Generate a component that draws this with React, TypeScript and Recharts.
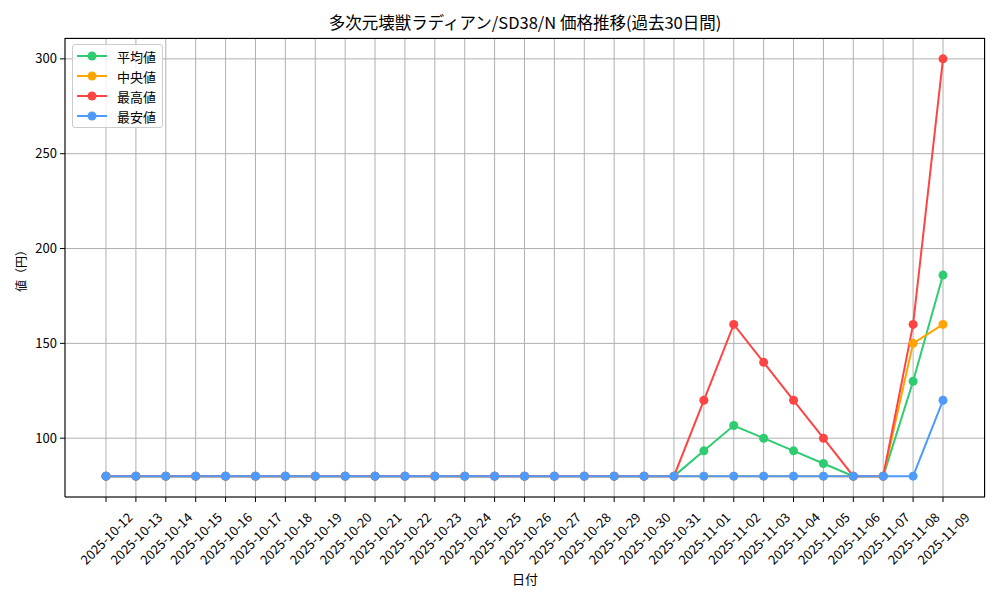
import React from 'react';
import { LineChart, Line, XAxis, YAxis, CartesianGrid } from 'recharts';

const dates = [
  '2025-10-12','2025-10-13','2025-10-14','2025-10-15','2025-10-16','2025-10-17','2025-10-18',
  '2025-10-19','2025-10-20','2025-10-21','2025-10-22','2025-10-23','2025-10-24','2025-10-25',
  '2025-10-26','2025-10-27','2025-10-28','2025-10-29','2025-10-30','2025-10-31','2025-11-01',
  '2025-11-02','2025-11-03','2025-11-04','2025-11-05','2025-11-06','2025-11-07','2025-11-08','2025-11-09',
];
const avgValues = [80,80,80,80,80,80,80,80,80,80,80,80,80,80,80,80,80,80,80,80,93.33,106.67,100,93.33,86.67,80,80,130,186];
const medianValues = [80,80,80,80,80,80,80,80,80,80,80,80,80,80,80,80,80,80,80,80,80,80,80,80,80,80,80,150,160];
const maxValues = [80,80,80,80,80,80,80,80,80,80,80,80,80,80,80,80,80,80,80,80,120,160,140,120,100,80,80,160,300];
const minValues = [80,80,80,80,80,80,80,80,80,80,80,80,80,80,80,80,80,80,80,80,80,80,80,80,80,80,80,80,120];
const yTicks = [100, 150, 200, 250, 300];

const seriesDefs = [
  { key: 'avg', name: '平均値', color: '#2ecc71' },
  { key: 'median', name: '中央値', color: '#ffa500' },
  { key: 'max', name: '最高値', color: '#ff4444' },
  { key: 'min', name: '最安値', color: '#4d9bff' },
];

const data = dates.map((d, i) => ({
  date: d,
  avg: avgValues[i],
  median: medianValues[i],
  max: maxValues[i],
  min: minValues[i],
}));

const FONT = '"Noto Sans CJK JP", "DejaVu Sans", sans-serif';

const XTick = (props: any) => {
  const { x, y, payload } = props;
  return (
    <g transform={`translate(${x},${y + 34})`}>
      <text
        x={0}
        y={0}
        textAnchor="middle"
        dominantBaseline="central"
        transform="rotate(-45)"
        fontSize={13}
        fontFamily={FONT}
        fill="#000"
      >
        {payload.value}
      </text>
    </g>
  );
};

export default function App() {
  return (
    <div style={{ position: 'absolute', left: 0, top: 0, width: 1000, height: 600, background: '#fff' }}>
      <div
        style={{
          position: 'absolute',
          left: 0,
          width: 1050,
          top: 10,
          textAlign: 'center',
          fontFamily: FONT,
          fontSize: 16.5,
          color: '#000',
        }}
      >
        多次元壊獣ラディアン/SD38/N 価格推移(過去30日間)
      </div>
      <LineChart
        width={1000}
        height={600}
        data={data}
        margin={{ top: 38, right: 15, bottom: 0, left: 0 }}
      >
        <CartesianGrid stroke="#b0b0b0" strokeWidth={1} />
        <XAxis
          dataKey="date"
          interval={0}
          height={103}
          padding={{ left: 41, right: 42 }}
          tick={<XTick />}
          tickSize={5}
          axisLine={{ stroke: '#000' }}
          tickLine={{ stroke: '#000' }}
        />
        <YAxis
          type="number"
          domain={[69, 311]}
          ticks={yTicks}
          width={65}
          tickSize={5}
          tickMargin={3}
          axisLine={{ stroke: '#000' }}
          tickLine={{ stroke: '#000' }}
          tick={{ fontSize: 13, fill: '#000', fontFamily: FONT }}
        />
        {seriesDefs.map((s) => (
          <Line
            key={s.key}
            dataKey={s.key}
            name={s.name}
            stroke={s.color}
            strokeWidth={2}
            dot={{ r: 4.5, fill: s.color, stroke: s.color, strokeWidth: 0 }}
            activeDot={false}
            isAnimationActive={false}
          />
        ))}
      </LineChart>
      <div
        style={{
          position: 'absolute',
          left: 65,
          top: 38,
          width: 920,
          height: 459,
          borderTop: '1px solid #000',
          borderRight: '1px solid #000',
          boxSizing: 'border-box',
          pointerEvents: 'none',
        }}
      />
      <div
        style={{
          position: 'absolute',
          left: 72,
          top: 44,
          width: 91,
          height: 84,
          boxSizing: 'border-box',
          border: '1px solid #cccccc',
          borderRadius: 3,
          background: 'rgba(255,255,255,0.8)',
          padding: '1px 0 0 4px',
          fontFamily: FONT,
          fontSize: 13,
        }}
      >
        {seriesDefs.map((s) => (
          <div key={s.key} style={{ display: 'flex', alignItems: 'center', height: 20 }}>
            <svg width={30} height={12} style={{ marginRight: 10 }}>
              <line x1={0} y1={6} x2={30} y2={6} stroke={s.color} strokeWidth={2} />
              <circle cx={15} cy={6} r={4.5} fill={s.color} />
            </svg>
            <span>{s.name}</span>
          </div>
        ))}
      </div>
      <div
        style={{
          position: 'absolute',
          left: 475,
          width: 100,
          top: 569,
          textAlign: 'center',
          fontFamily: FONT,
          fontSize: 13,
        }}
      >
        日付
      </div>
      <div
        style={{
          position: 'absolute',
          left: 20,
          top: 268,
          transform: 'translate(-50%, -50%) rotate(-90deg)',
          whiteSpace: 'nowrap',
          fontFamily: FONT,
          fontSize: 12,
        }}
      >
        値（円）
      </div>
    </div>
  );
}
